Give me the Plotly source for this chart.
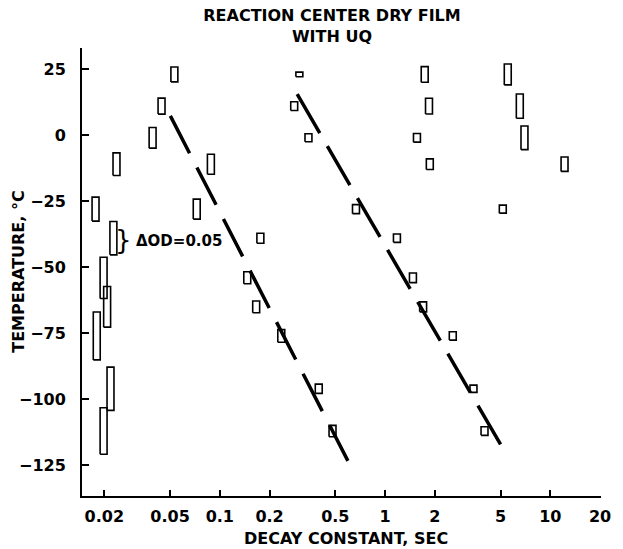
import numpy as np
import plotly.graph_objects as go

# -----------------------------------------------------
# DATA  (decay constant in sec, temperature in C, amplitude as delta OD)
# -----------------------------------------------------

temps_a = [23, 11, -1, -11, -28, -39, -54, -65, -76, -96, -112]
decay_a = [0.0531, 0.0444, 0.0392, 0.0237, 0.0177, 0.0227, 0.0198, 0.0208, 0.0180, 0.0218, 0.0198]
dod_a = [0.0225, 0.024, 0.031, 0.034, 0.036, 0.050, 0.062, 0.061, 0.072, 0.065, 0.070]

temps_b = [-11, -28, -39, -54, -65, -76, -96, -112]
decay_b = [0.0883, 0.0725, 0.176, 0.1466, 0.166, 0.2355, 0.397, 0.481]
dod_b = [0.030, 0.030, 0.015, 0.018, 0.0175, 0.019, 0.014, 0.017]

temps_c = [23, 11, -1, -28, -39, -54, -65, -76, -96, -112]
decay_c = [0.303, 0.282, 0.344, 0.667, 1.18, 1.475, 1.70, 2.57, 3.43, 4.0]
dod_c = [0.007, 0.013, 0.012, 0.0135, 0.0125, 0.0145, 0.015, 0.0125, 0.011, 0.013]

temps_d = [23, 11, -1, -11, -28]
decay_d = [1.738, 1.845, 1.56, 1.866, 5.16]
dod_d = [0.0235, 0.0235, 0.013, 0.016, 0.012]

temps_e = [23, 11, -1, -11]
decay_e = [5.53, 6.54, 6.98, 12.2]
dod_e = [0.0315, 0.0365, 0.0355, 0.0215]

# dashed fit lines (end points)
fit1_decay = [0.0502, 0.596]
fit1_temp = [7.3, -123.3]
fit2_decay = [0.294, 5.10]
fit2_temp = [15.5, -118.0]

x_ticks = [0.02, 0.05, 0.1, 0.2, 0.5, 1, 2, 5, 10, 20]
x_ticktext = ["0.02", "0.05", "0.1", "0.2", "0.5", "1", "2", "5", "10", "20"]
y_ticks = [-125, -100, -75, -50, -25, 0, 25]

# -----------------------------------------------------
# STYLE
# -----------------------------------------------------

FONT = "DejaVu Sans"
OD_TO_DEG = 252.0        # vertical size of a box: degrees per unit delta OD
HALF_W = 0.021           # half box width in decades (~7 px)

X_RANGE = [-1.834, 1.307]
Y_RANGE = [-136.6, 33.0]


def box_path(decay, temps, dod):
    xs, ys = [], []
    for d, t, a in zip(decay, temps, dod):
        x0 = d / 10 ** HALF_W
        x1 = d * 10 ** HALF_W
        h = a * OD_TO_DEG / 2
        xs += [x0, x1, x1, x0, x0, None]
        ys += [t - h, t - h, t + h, t + h, t - h, None]
    return xs, ys


fig = go.Figure()

for dec, tmp, amp in [(decay_a, temps_a, dod_a), (decay_b, temps_b, dod_b),
                      (decay_c, temps_c, dod_c), (decay_d, temps_d, dod_d),
                      (decay_e, temps_e, dod_e)]:
    bx, by = box_path(dec, tmp, amp)
    fig.add_trace(go.Scatter(
        x=bx, y=by, mode="lines",
        line=dict(color="black", width=1.6),
        hoverinfo="skip", showlegend=False
    ))

for fx, fy, dash in [(fit1_decay, fit1_temp, "42px,16px"),
                     (fit2_decay, fit2_temp, "45px,15px")]:
    fig.add_trace(go.Scatter(
        x=fx, y=fy, mode="lines",
        line=dict(color="black", width=3.5, dash=dash),
        showlegend=False
    ))

fig.update_layout(
    width=623, height=549,
    paper_bgcolor="white", plot_bgcolor="white",
    margin=dict(l=82, r=16, t=48, b=53),
    font=dict(family=FONT, size=15, color="black"),
    title=dict(
        text="<b>REACTION CENTER DRY FILM<br>WITH UQ</b>",
        x=332 / 623, xanchor="center", xref="container",
        y=1 - 21 / 549, yanchor="middle", yref="container",
        font=dict(family=FONT, size=16, color="black")
    ),
    xaxis=dict(
        type="log", range=X_RANGE,
        tickvals=x_ticks, ticktext=x_ticktext,
        ticks="inside", ticklen=6, tickwidth=2, tickcolor="black",
        showline=True, linecolor="black", linewidth=2,
        showgrid=False, zeroline=False,
        ticklabelstandoff=5,
        tickfont=dict(family=FONT, size=16, weight="bold")
    ),
    yaxis=dict(
        range=Y_RANGE, tickvals=y_ticks,
        ticks="inside", ticklen=7, tickwidth=2, tickcolor="black",
        showline=True, linecolor="black", linewidth=2,
        showgrid=False, zeroline=False,
        ticklabelstandoff=11,
        tickfont=dict(family=FONT, size=16, weight="bold")
    ),
    annotations=[
        dict(text="<b>DECAY CONSTANT, SEC</b>", xref="paper", yref="paper",
             x=(349 - 82) / 525, y=(496 - 538) / 448,
             xanchor="center", yanchor="middle", showarrow=False,
             font=dict(family=FONT, size=16)),
        dict(text="<b>TEMPERATURE, °C</b>", xref="paper", yref="paper",
             x=(17 - 82) / 525, y=0.5, textangle=-90,
             xanchor="center", yanchor="middle", showarrow=False,
             font=dict(family=FONT, size=16)),
        dict(text="}", xref="x", yref="y",
             x=np.log10(0.0262), y=-39.5,
             xanchor="center", yanchor="middle", showarrow=False,
             font=dict(family=FONT, size=26)),
        dict(text="<b>ΔOD=0.05</b>", xref="x", yref="y",
             x=np.log10(0.0303), y=-40,
             xanchor="left", yanchor="middle", showarrow=False,
             font=dict(family=FONT, size=15)),
    ]
)

# the page's default body margin would shift the fixed-size figure
fig.write_html("out.html", config={"displayModeBar": False},
               post_script="document.body.style.margin='0px';")
